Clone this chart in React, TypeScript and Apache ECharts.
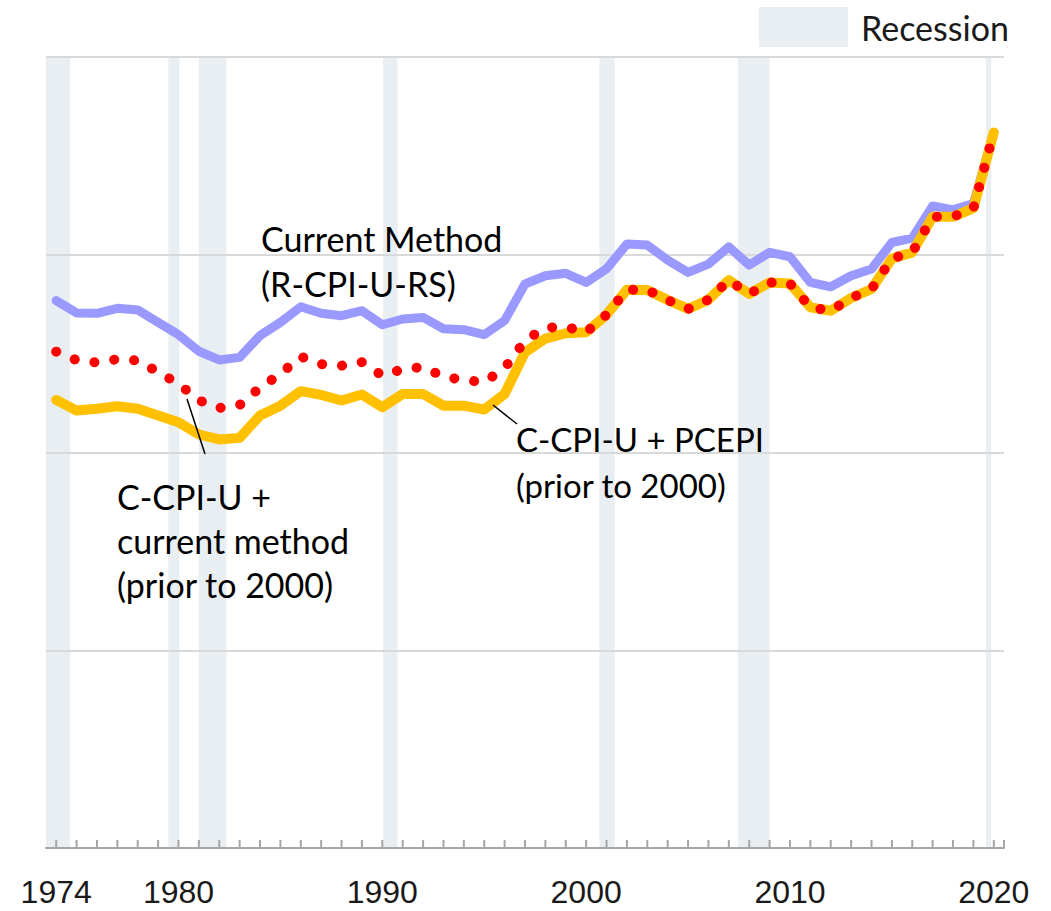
import React, { useEffect, useRef } from "react";
import * as echarts from "echarts";

const years = [
  1974, 1975, 1976, 1977, 1978, 1979, 1980, 1981, 1982, 1983, 1984, 1985, 1986, 1987, 1988, 1989,
  1990, 1991, 1992, 1993, 1994, 1995, 1996, 1997, 1998, 1999, 2000, 2001, 2002, 2003, 2004, 2005,
  2006, 2007, 2008, 2009, 2010, 2011, 2012, 2013, 2014, 2015, 2016, 2017, 2018, 2019, 2020,
];

const labelYears = [1974, 1980, 1990, 2000, 2010, 2020];

const currentMethod = [
  2.768, 2.706, 2.704, 2.729, 2.721, 2.658, 2.596, 2.512, 2.468, 2.481, 2.591, 2.658, 2.737, 2.704,
  2.692, 2.717, 2.646, 2.675, 2.683, 2.626, 2.621, 2.596, 2.667, 2.852, 2.894, 2.906, 2.86, 2.929,
  3.054, 3.049, 2.973, 2.911, 2.953, 3.04, 2.948, 3.012, 2.99, 2.86, 2.838, 2.894, 2.928, 3.062,
  3.084, 3.247, 3.227, 3.259, 3.618,
];

const ccpiPcepi = [
  2.266, 2.212, 2.221, 2.234, 2.221, 2.187, 2.153, 2.091, 2.066, 2.074, 2.187, 2.237, 2.31, 2.291,
  2.263, 2.293, 2.229, 2.296, 2.296, 2.237, 2.237, 2.217, 2.296, 2.507, 2.576, 2.603, 2.608, 2.697,
  2.823, 2.822, 2.771, 2.726, 2.773, 2.872, 2.802, 2.86, 2.855, 2.734, 2.717, 2.781, 2.827, 2.981,
  3.012, 3.192, 3.192, 3.236, 3.618,
];

const ccpiCurrent = [
  2.51, 2.467, 2.455, 2.472, 2.465, 2.407, 2.348, 2.264, 2.225, 2.24, 2.328, 2.397, 2.485, 2.447,
  2.439, 2.457, 2.389, 2.422, 2.432, 2.384, 2.366, 2.356, 2.427, 2.566, 2.631, 2.636, 2.608, 2.697,
  2.823, 2.822, 2.771, 2.726, 2.773, 2.872, 2.802, 2.86, 2.855, 2.734, 2.717, 2.781, 2.827, 2.981,
  3.012, 3.192, 3.192, 3.236, 3.618,
];

const recessionStarts = [1973.87, 1980.0, 1981.5, 1990.54, 2001.15, 2007.95, 2020.12];
const recessionEnds = [1975.18, 1980.54, 1982.85, 1991.25, 2001.9, 2009.5, 2020.37];

const TEXT_FONT = "Lato, 'Open Sans', sans-serif";

export default function App() {
  const ref = useRef<HTMLDivElement>(null);

  useEffect(() => {
    if (!ref.current) return;
    const chart = echarts.init(ref.current, null, { renderer: "svg" });
    const toPairs = (vals: number[]) => years.map((y, i) => [y + 0.5, vals[i]]);
    const tickPositions = years.map((y) => y + 0.5).concat([2021]);

    const option: any = {
      animation: false,
      backgroundColor: "#ffffff",
      grid: { left: 46, right: 47, top: 57, bottom: 63, containLabel: false },
      legend: {
        data: [{ name: "Recession", icon: "rect", itemStyle: { color: "#e9eef3" } }],
        left: 759,
        top: 7,
        itemWidth: 89,
        itemHeight: 40,
        padding: 0,
        selectedMode: false,
        textStyle: {
          fontFamily: TEXT_FONT,
          fontSize: 34,
          color: "#1a1a1a",
          padding: [0, 0, 0, 8],
        },
      },
      xAxis: {
        type: "value",
        min: 1974,
        max: 2021,
        z: 1.5,
        splitLine: { show: false },
        axisLine: { show: true, lineStyle: { color: "#a6a6a6", width: 2 } },
        axisTick: { show: false },
        axisLabel: {
          show: true,
          margin: 28,
          fontFamily: "'Liberation Sans', Arial, sans-serif",
          fontSize: 32,
          color: "#1a1a1a",
          customValues: labelYears.map((y) => y + 0.5),
          formatter: (v: number) => String(Math.floor(v)),
        },
      },
      yAxis: {
        type: "value",
        min: 0,
        max: 4,
        interval: 1,
        z: 1.5,
        axisLine: { show: false },
        axisTick: { show: false },
        axisLabel: { show: false },
        splitLine: { show: true, lineStyle: { color: "#d9d9d9", width: 2 } },
      },
      series: [
        {
          name: "Recession",
          type: "line",
          data: [],
          silent: true,
          itemStyle: { color: "#e9eef3" },
          markArea: {
            silent: true,
            itemStyle: { color: "#e9eef3" },
            label: { show: false },
            data: recessionStarts.map((s, i) => [{ xAxis: s }, { xAxis: recessionEnds[i] }]),
          },
        },
        {
          name: "ticks",
          type: "custom",
          silent: true,
          clip: false,
          z: 5,
          data: tickPositions.map((t) => [t, 0]),
          renderItem: (params: any, api: any) => {
            const p = api.coord([api.value(0), 0]);
            return {
              type: "line",
              shape: { x1: p[0], y1: p[1] - 8, x2: p[0], y2: p[1] },
              style: { stroke: "#a6a6a6", lineWidth: 2 },
            };
          },
        },
        {
          name: "Current Method (R-CPI-U-RS)",
          type: "line",
          data: toPairs(currentMethod),
          symbol: "none",
          z: 2,
          lineStyle: { color: "#9999ff", width: 9, join: "round", cap: "round" },
        },
        {
          name: "C-CPI-U + PCEPI (prior to 2000)",
          type: "line",
          data: toPairs(ccpiPcepi),
          symbol: "none",
          z: 3,
          lineStyle: { color: "#ffc000", width: 10, join: "round", cap: "round" },
        },
        {
          name: "C-CPI-U + current method (prior to 2000)",
          type: "line",
          data: toPairs(ccpiCurrent),
          symbol: "none",
          z: 4,
          lineStyle: { color: "#ff0000", width: 10, type: [0.1, 19.9], cap: "round", join: "round" },
        },
      ],
      graphic: [
        {
          type: "text",
          x: 261,
          y: 261,
          z: 100,
          style: {
            text: "Current Method\n(R-CPI-U-RS)",
            font: `34px ${TEXT_FONT}`,
            lineHeight: 45,
            fill: "#000000",
            verticalAlign: "middle",
          },
        },
        {
          type: "text",
          x: 117,
          y: 540,
          z: 100,
          style: {
            text: "C-CPI-U +\ncurrent method\n(prior to 2000)",
            font: `34px ${TEXT_FONT}`,
            lineHeight: 44,
            fill: "#000000",
            verticalAlign: "middle",
          },
        },
        {
          type: "text",
          x: 516,
          y: 462,
          z: 100,
          style: {
            text: "C-CPI-U + PCEPI\n(prior to 2000)",
            font: `33px ${TEXT_FONT}`,
            lineHeight: 46,
            fill: "#000000",
            verticalAlign: "middle",
          },
        },
        {
          type: "line",
          z: 100,
          shape: { x1: 187, y1: 399, x2: 205, y2: 454 },
          style: { stroke: "#000000", lineWidth: 1.5 },
        },
        {
          type: "line",
          z: 100,
          shape: { x1: 493, y1: 405, x2: 517, y2: 424 },
          style: { stroke: "#000000", lineWidth: 1.5 },
        },
      ],
    };

    chart.setOption(option);
    return () => chart.dispose();
  }, []);

  return (
    <div
      ref={ref}
      style={{ position: "fixed", left: 0, top: 0, width: 1051, height: 911 }}
    />
  );
}
